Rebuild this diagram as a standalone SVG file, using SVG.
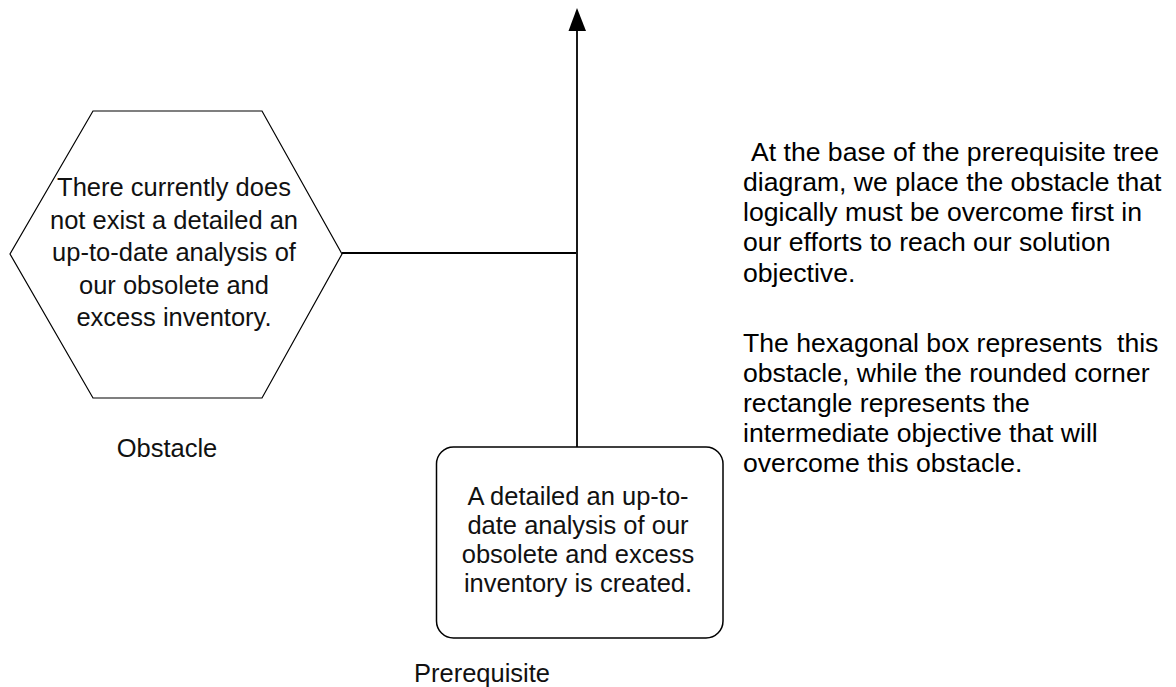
<svg xmlns="http://www.w3.org/2000/svg" width="1176" height="687" viewBox="0 0 1176 687">
<style>
.shape{fill:#fff;stroke:#000;stroke-width:1.5}
.hex{stroke-width:1.2}
.conn{fill:none;stroke:#000;stroke-width:1.8}
.pix{font-family:"Liberation Sans",Arial,sans-serif;font-size:25.5px;fill:#111;text-anchor:middle}
.body{font-family:"Liberation Sans",Arial,sans-serif;font-size:26.6px;fill:#000}
</style>
<rect width="1176" height="687" fill="#fff"/>
<g id="connectors">
<line class="conn" x1="342" y1="253" x2="576" y2="253"/>
<line class="conn" x1="577" y1="447" x2="577" y2="30"/>
<path d="M577,8 L586,31 L568.5,31 Z" fill="#000"/>
</g>
<g id="obstacle">
<polygon class="shape hex" points="93,111 262,111 342,254 262,398 93,398 10,254"/>
<text class="pix" x="174" y="196">There currently does</text>
<text class="pix" x="174" y="229">not exist a detailed an</text>
<text class="pix" x="174" y="261">up-to-date analysis of</text>
<text class="pix" x="174" y="294">our obsolete and</text>
<text class="pix" x="174" y="326">excess inventory.</text>
</g>
<g id="obstacle-label">
<text class="pix" x="167" y="457">Obstacle</text>
</g>
<g id="prerequisite">
<rect class="shape" x="436.5" y="447" width="286.5" height="191" rx="17" ry="17"/>
<text class="pix" x="578" y="505">A detailed an up-to-</text>
<text class="pix" x="578" y="534">date analysis of our</text>
<text class="pix" x="578" y="563">obsolete and excess</text>
<text class="pix" x="578" y="592">inventory is created.</text>
</g>
<g id="prerequisite-label">
<text class="pix" x="482" y="682">Prerequisite</text>
</g>
<g id="description">
<text class="body" x="751" y="161">At the base of the prerequisite tree</text>
<text class="body" x="743" y="191">diagram, we place the obstacle that</text>
<text class="body" x="743" y="221">logically must be overcome first in</text>
<text class="body" x="743" y="251">our efforts to reach our solution</text>
<text class="body" x="743" y="282">objective.</text>
<text class="body" x="743" y="352" xml:space="preserve">The hexagonal box represents  this</text>
<text class="body" x="743" y="382">obstacle, while the rounded corner</text>
<text class="body" x="743" y="412">rectangle represents the</text>
<text class="body" x="743" y="442">intermediate objective that will</text>
<text class="body" x="743" y="472">overcome this obstacle.</text>
</g>
</svg>
